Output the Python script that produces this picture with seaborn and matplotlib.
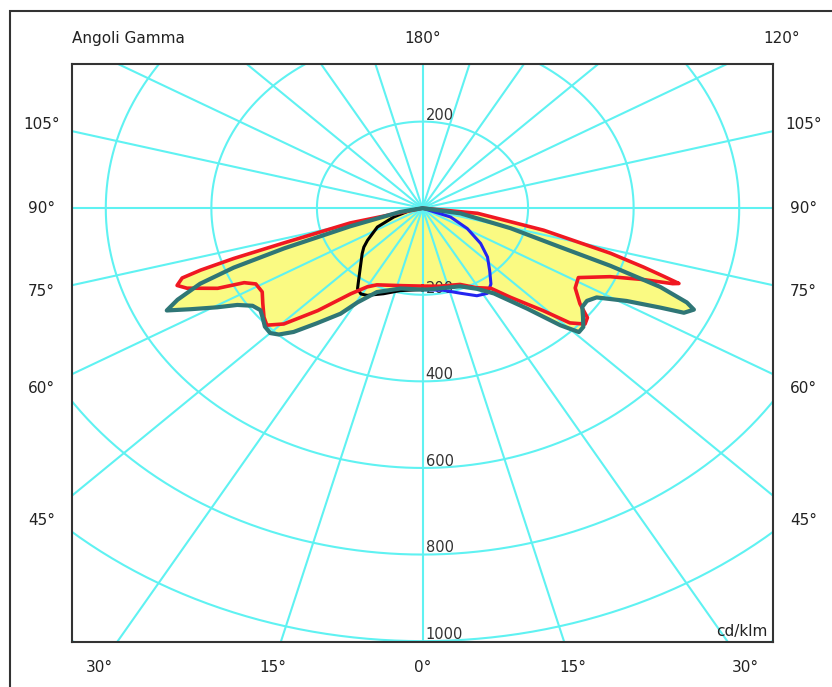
import numpy as np
import pandas as pd
import matplotlib
matplotlib.use("Agg")
import matplotlib.pyplot as plt
from matplotlib.patches import Rectangle
import seaborn as sns

# ---- photometric data (gamma in degrees, intensity in cd/klm) ----
# plane drawn in red, right and left halves
RED_R_GAMMA = [0, 10, 22, 29, 35, 39, 44, 46.5, 49, 51, 53.5, 57.5, 61.5, 66, 68.5, 69.8, 70.3, 71, 72, 73.7, 77.5, 83.5, 90]
RED_R_CD = [180, 183, 190, 210, 226, 265, 329, 385, 408, 402, 371, 343, 336, 389, 450, 505, 516, 483, 440, 371, 235, 105, 0]
RED_L_GAMMA = [0, 12, 26, 30, 34.5, 40, 44.5, 47.5, 50, 54, 57.5, 61, 63, 64.5, 67.5, 69, 70.5, 71.2, 72, 73, 76, 90]
RED_L_CD = [180, 183, 197, 210, 240, 309, 375, 400, 392, 374, 360, 361, 379, 430, 483, 498, 483, 444, 376, 275, 141, 0]

# plane drawn in dark teal
TEAL_R_GAMMA = [0, 4.5, 21.5, 29, 34.5, 40.5, 44, 46, 48, 50.5, 53, 55.5, 58, 61, 63, 64, 65.5, 66.5, 68, 69.5, 71, 74.5, 80.5, 90]
TEAL_R_CD = [188, 188, 194, 213, 239, 305, 376, 412, 410, 394, 379, 378, 389, 442, 506, 551, 565, 546, 486, 380, 276, 173, 73, 0]
TEAL_L_GAMMA = [0, 12.5, 24, 29.5, 32.5, 37, 40.5, 43, 45, 47.5, 50, 52.5, 55, 57.5, 59.5, 62, 64, 65.5, 67.5, 69, 70.5, 73, 78.5, 90]
TEAL_L_CD = [188, 190, 212, 250, 289, 333, 376, 399, 408, 405, 395, 387, 393, 416, 451, 497, 539, 510, 456, 383, 278, 143, 43, 0]

# transverse plane: black half on the left, blue half on the right
BLACK_L_GAMMA = [0, 12.5, 20.5, 27.5, 30.5, 33.5, 36, 47.5, 51, 54.5, 63, 69.5, 78.5, 90]
BLACK_L_CD = [188, 195, 211, 227, 230, 223, 206, 155, 143, 128, 96, 58, 23, 0]
BLUE_R_GAMMA = [0, 12, 20, 27, 32, 36.5, 41.5, 47.5, 53.5, 61, 69, 90]
BLUE_R_CD = [188, 194, 209, 227, 232, 218, 192, 167, 137, 97, 57, 0]

RING_VALUES = [200, 400, 600, 800, 1000, 1200]
RAY_STEP_DEG = 15
SIDE_LABELS = ["45°", "60°", "75°", "90°", "105°"]
SIDE_ANGLES = [45, 60, 75, 90, 105]
BOTTOM_LABELS = ["30°", "15°", "0°", "15°", "30°"]
BOTTOM_ANGLES = [-30, -15, 0, 15, 30]
UNIT_LABEL = "cd/klm"
TITLE_LABEL = "Angoli Gamma"

# ---- styling ----
GRID_C = "#5ff2f2"
FILL_C = "#fafa82"
RED_C = "#f01822"
TEAL_C = "#2f7676"
BLUE_C = "#2424f0"
TEXT_C = "#222222"


def to_xy(gamma, cd, side):
    g = np.radians(np.asarray(gamma, dtype=float))
    r = np.asarray(cd, dtype=float)
    return side * r * np.sin(g), -r * np.cos(g)


def plane_outline(g_right, c_right, g_left, c_left):
    xr, yr = to_xy(g_right, c_right, 1)
    xl, yl = to_xy(g_left, c_left, -1)
    return np.concatenate([xr, xl[::-1]]), np.concatenate([yr, yl[::-1]])


sns.set_theme(style="white")
plt.rcParams["font.family"] = ["DejaVu Sans"]

W, H = 832, 687
fig = plt.figure(figsize=(W / 100, H / 100), dpi=100)
fig.patch.set_facecolor("white")

# plotting frame in pixel terms
L, R, T, B = 72, 773, 64, 642
ax = fig.add_axes([L / W, (H - B) / H, (R - L) / W, (B - T) / H])
XMAX = 664
YMIN, YMAX = -1002, 333
ax.set_xlim(-XMAX, XMAX)
ax.set_ylim(YMIN, YMAX)
ax.set_xticks([])
ax.set_yticks([])
for s in ax.spines.values():
    s.set_color("#333333")
    s.set_linewidth(1.5)
    s.set_zorder(10)

# yellow fill of the two main planes
red_x, red_y = plane_outline(RED_R_GAMMA, RED_R_CD, RED_L_GAMMA, RED_L_CD)
teal_x, teal_y = plane_outline(TEAL_R_GAMMA, TEAL_R_CD, TEAL_L_GAMMA, TEAL_L_CD)
ax.fill(red_x, red_y, color=FILL_C, lw=0, zorder=1)
ax.fill(teal_x, teal_y, color=FILL_C, lw=0, zorder=1)

# polar grid: rings and rays
t = np.linspace(0, 2 * np.pi, 721)
for rv in RING_VALUES:
    ax.plot(rv * np.cos(t), rv * np.sin(t), color=GRID_C, lw=1.5, zorder=2)
for a in range(0, 360, RAY_STEP_DEG):
    ar = np.radians(a)
    ax.plot([0, 2500 * np.sin(ar)], [0, -2500 * np.cos(ar)], color=GRID_C, lw=1.5, zorder=2)

# ring value labels
ax.text(6, RING_VALUES[0] + 4, str(RING_VALUES[0]), fontsize=10.5, color="#333333",
        ha="left", va="baseline", zorder=3)
for rv in RING_VALUES[:5]:
    ax.text(6, -rv + 5, str(rv), fontsize=10.5, color="#333333",
            ha="left", va="baseline", zorder=3)

# curves
def draw_half(gamma, cd, side, color, lw, z):
    x, y = to_xy(gamma, cd, side)
    df = pd.DataFrame({"x": x, "y": y})
    sns.lineplot(data=df, x="x", y="y", sort=False, estimator=None, color=color,
                 lw=lw, ax=ax, zorder=z, solid_joinstyle="round", solid_capstyle="round")

draw_half(BLACK_L_GAMMA, BLACK_L_CD, -1, "black", 2.2, 4)
draw_half(BLUE_R_GAMMA, BLUE_R_CD, 1, BLUE_C, 2.2, 4)
sns.lineplot(x=red_x, y=red_y, sort=False, estimator=None, color=RED_C, lw=2.6, ax=ax,
             zorder=5, solid_joinstyle="round")
sns.lineplot(x=teal_x, y=teal_y, sort=False, estimator=None, color=TEAL_C, lw=3.0, ax=ax,
             zorder=6, solid_joinstyle="round")
ax.set_xlabel("")
ax.set_ylabel("")

# gamma angle labels outside the frame
LX, LBOT, LTOP = 722, -1060, 393


def label_point(gdeg):
    g = np.radians(gdeg)
    sx, sy = np.sin(g), -np.cos(g)
    cands = []
    if abs(sx) > 1e-9:
        cands.append(LX / abs(sx))
    if sy < -1e-9:
        cands.append(LBOT / sy)
    if sy > 1e-9:
        cands.append(LTOP / sy)
    tt = min(cands)
    return tt * sx, tt * sy


lab_kw = dict(fontsize=11, color=TEXT_C, ha="center", va="center", clip_on=False)
for txt, g in zip(SIDE_LABELS, SIDE_ANGLES):
    for side in (-1, 1):
        x, y = label_point(g)
        ax.text(side * x, y, txt, **lab_kw)
for txt, g in zip(BOTTOM_LABELS, BOTTOM_ANGLES):
    x, y = label_point(abs(g))
    ax.text(np.sign(g) * x if g else 0, y, txt, **lab_kw)
ax.text(0, LTOP, "180°", **lab_kw)
x120, y120 = label_point(120)
ax.text(x120, y120, "120°", **lab_kw)
ax.text(-XMAX, LTOP, TITLE_LABEL, fontsize=11, color=TEXT_C, ha="left", va="center",
        clip_on=False)
ax.text(XMAX - 10, YMIN + 8, UNIT_LABEL, fontsize=11, color=TEXT_C, ha="right",
        va="bottom", zorder=7)

# outer page border (runs past the right and bottom edges)
fig.add_artist(Rectangle((9.5 / W, -0.05), 1.2, 1.05 - 11 / H, transform=fig.transFigure,
                         fill=False, ec="#333333", lw=1.5))

fig.savefig("out.png", dpi=100)
